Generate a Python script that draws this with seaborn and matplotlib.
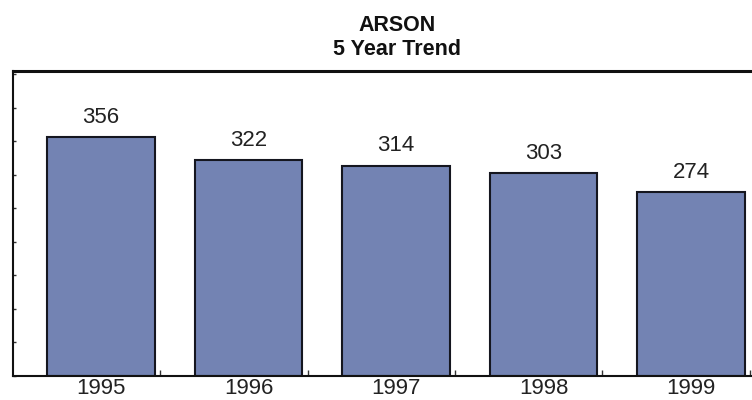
import matplotlib
matplotlib.use("Agg")
import matplotlib.pyplot as plt
import seaborn as sns
import numpy as np

years = ["1995", "1996", "1997", "1998", "1999"]
counts = [356, 322, 314, 303, 274]
title_line1 = "ARSON"
title_line2 = "5 Year Trend"

sns.set_style("white")
plt.rcParams["font.family"] = ["Liberation Sans", "DejaVu Sans"]

fig = plt.figure(figsize=(7.52, 4.0), dpi=100)
ax = fig.add_axes([13 / 752, 24 / 400, 766 / 752, 305 / 400])

sns.barplot(x=years, y=counts, color="#7383b3", saturation=1,
            edgecolor="#15161f", linewidth=1.5, width=0.732, ax=ax)

ax.set_xlim(-0.597, 4.597)
ax.set_ylim(0, 455)

for c in ax.containers:
    ax.bar_label(c, labels=[str(v) for v in counts], padding=6.5,
                 fontsize=16, color="#222222")

ax.set_yticks(np.arange(0, 451, 50))
ax.set_yticklabels([])
ax.tick_params(axis="y", direction="in", length=2.5, width=1, color="#333333", left=True)
ax.tick_params(axis="x", which="major", length=0, pad=1.5, labelsize=16, labelcolor="#222222")
ax.set_xticks(np.arange(len(years)) + 0.4, minor=True)
ax.tick_params(axis="x", which="minor", direction="in", length=4, width=1, color="#333333", bottom=True)
ax.set_xlabel("")
ax.set_ylabel("")

for s in ["left", "bottom"]:
    ax.spines[s].set_linewidth(1.5)
    ax.spines[s].set_color("#111111")
ax.spines["top"].set_linewidth(2.2)
ax.spines["top"].set_color("#111111")

fig.text(397 / 752, 1 - 31 / 400, title_line1, ha="center", va="baseline",
         fontsize=15.5, fontweight="bold", color="#111111")
fig.text(397 / 752, 1 - 55 / 400, title_line2, ha="center", va="baseline",
         fontsize=15.5, fontweight="bold", color="#111111")

fig.savefig("out.png", dpi=100)
